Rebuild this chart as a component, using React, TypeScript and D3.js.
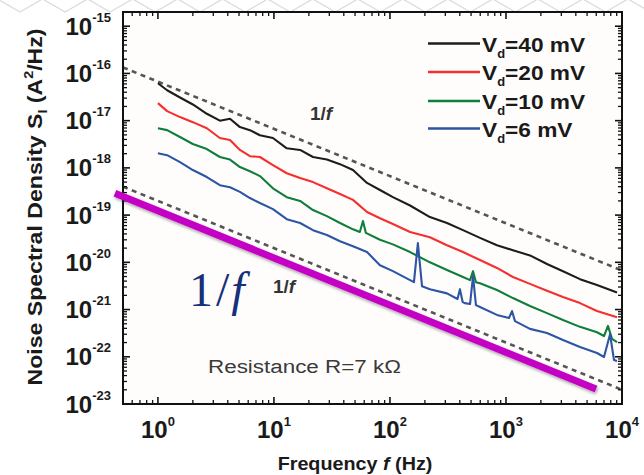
import React from "react";
import * as d3 from "d3";

const W = 644;
const H = 475;

// decade ticks
const xTicks = [1, 10, 100, 1000, 10000];
const xTickExp = ["0", "1", "2", "3", "4"];
const yTicks = [1e-15, 1e-16, 1e-17, 1e-18, 1e-19, 1e-20, 1e-21, 1e-22, 1e-23];
const yTickExp = ["-15", "-16", "-17", "-18", "-19", "-20", "-21", "-22", "-23"];

// noise spectra [f (Hz), S_I (A^2/Hz)]
const vd40: [number, number][] = [
  [1, 6.2e-17], [1.2, 4.4e-17], [1.55, 3.1e-17], [2.0, 2.2e-17], [2.64, 1.4e-17],
  [3.42, 1.0e-17], [4.18, 1.1e-17], [5.09, 7.3e-18], [6.21, 6.3e-18], [7.57, 4.9e-18],
  [9.8, 4.3e-18], [12.9, 2.6e-18], [16.8, 2.4e-18], [21.7, 1.7e-18], [28.6, 1.5e-18],
  [37.1, 1.2e-18], [48, 9.0e-19], [63.4, 4.8e-19], [82, 3.4e-19], [106, 2.4e-19],
  [149, 1.6e-19], [221, 9.1e-20], [310, 6.8e-20], [426, 4.8e-20], [597, 3.3e-20],
  [836, 2.3e-20], [1148, 1.8e-20], [1610, 1.4e-20], [2256, 9.2e-21], [3100, 6.5e-21],
  [4345, 4.4e-21], [6085, 3.3e-21], [9060, 2.3e-21],
];

const vd20: [number, number][] = [
  [1, 2.35e-17], [1.2, 1.59e-17], [1.55, 1.19e-17], [2.0, 9.3e-18], [2.64, 6.9e-18],
  [3.42, 4.3e-18], [4.18, 3.9e-18], [5.09, 2.4e-18], [6.21, 1.77e-18], [7.57, 1.7e-18],
  [9.8, 1.14e-18], [12.9, 7.7e-19], [16.8, 6.1e-19], [21.7, 5.0e-19], [28.6, 3.7e-19],
  [37.1, 2.8e-19], [48, 2.1e-19], [63.4, 1.16e-19], [82, 8.6e-20], [106, 6.5e-20],
  [149, 4.4e-20], [221, 3.4e-20], [310, 2.3e-20], [426, 1.65e-20], [597, 1.12e-20],
  [836, 7.6e-21], [1148, 4.9e-21], [1610, 3.5e-21], [2256, 2.5e-21], [3100, 1.84e-21],
  [4345, 1.37e-21], [6085, 9.3e-22], [9060, 6.9e-22],
];

const vd10: [number, number][] = [
  [1, 6.9e-18], [1.2, 6.3e-18], [1.55, 4.5e-18], [2.0, 3.2e-18], [2.64, 2.5e-18],
  [3.42, 1.7e-18], [4.18, 1.5e-18], [5.09, 1.04e-18], [6.21, 8.5e-19], [7.57, 6.7e-19],
  [9.8, 3.7e-19], [12.9, 2.4e-19], [16.8, 2.0e-19], [21.7, 1.28e-19], [28.6, 9.5e-20],
  [37.1, 6.8e-20], [48, 5.0e-20], [55, 4.4e-20], [58.5, 7.5e-20], [62, 4.2e-20],
  [82, 3.0e-20], [106, 2.4e-20], [149, 1.65e-20], [221, 1.0e-20], [310, 6.9e-21],
  [426, 4.9e-21], [490, 4.2e-21], [520, 6.5e-21], [551, 3.8e-21], [597, 3.6e-21],
  [836, 2.6e-21], [1148, 1.75e-21], [1610, 1.19e-21], [2256, 8.4e-22], [3100, 6.0e-22],
  [4345, 4.3e-22], [6085, 3.3e-22], [6998, 2.75e-22], [7568, 4.5e-22], [8203, 2.4e-22],
  [9060, 2.05e-22],
];

const vd6: [number, number][] = [
  [1, 2.05e-18], [1.2, 1.86e-18], [1.55, 1.32e-18], [2.0, 9.0e-19], [2.64, 6.4e-19],
  [3.42, 4.3e-19], [4.18, 3.9e-19], [5.09, 3.1e-19], [6.21, 2.3e-19], [7.57, 1.8e-19],
  [9.8, 1.34e-19], [12.9, 8.2e-20], [16.8, 6.8e-20], [21.7, 4.8e-20], [28.6, 3.8e-20],
  [37.1, 2.8e-20], [48, 2.2e-20], [63.4, 1.65e-20], [82, 8.7e-21], [106, 6.5e-21],
  [149, 4.2e-21], [161, 3.8e-21], [174, 2.55e-20], [189, 3.1e-21], [221, 2.7e-21],
  [310, 2.2e-21], [382, 1.67e-21], [401, 2.7e-21], [423, 1.44e-21], [441, 1.37e-21],
  [490, 1.31e-21], [520, 5.1e-21], [551, 1.24e-21], [597, 1.13e-21], [836, 7.7e-22],
  [1061, 6.6e-22], [1127, 9.3e-22], [1196, 5.7e-22], [1610, 3.9e-22], [2256, 3.2e-22],
  [3100, 2.26e-22], [4345, 1.61e-22], [6085, 1.2e-22], [6998, 9.9e-23], [7889, 3.0e-22],
  [8531, 8.5e-23], [9060, 8.1e-23],
];

const seriesData = [vd40, vd20, vd10, vd6];
const legendValues = ["40 mV", "20 mV", "10 mV", "6 mV"];
const seriesColors = ["#1c1c1c", "#f52e2e", "#0f7d3b", "#2d55a5"];

// 1/f reference lines: S = A / f
const guideAmps = [6.7e-17, 2.0e-19];
const highlightAmp = 1.24e-19;
const highlightRange = [0.426, 5970];

const x = d3.scaleLog().domain([0.5, 1e4]).range([123, 622]);
const y = d3.scaleLog().domain([1e-23, 2e-15]).range([404, 12]);

const line = d3
  .line<[number, number]>()
  .x((d) => x(d[0]))
  .y((d) => y(d[1]));

function minorTicks(lo: number, hi: number): number[] {
  const out: number[] = [];
  for (let e = lo; e < hi; e++) {
    for (let m = 2; m <= 9; m++) out.push(m * Math.pow(10, e));
  }
  return out;
}

// faint honeycomb along the top edge of the page
function Hexes() {
  const r = 26;
  const w = Math.sqrt(3) * r;
  const items: JSX.Element[] = [];
  for (let i = -1; i < 15; i++) {
    const cx = i * w + 20;
    const cy = -14;
    const pts = d3.range(6).map((k) => {
      const a = (Math.PI / 3) * k + Math.PI / 6;
      return `${cx + r * Math.cos(a)},${cy + r * Math.sin(a)}`;
    });
    items.push(<polygon key={i} points={pts.join(" ")} fill="none" stroke="#dcdcdc" strokeWidth={1.3} />);
  }
  return <g>{items}</g>;
}

export default function App() {
  const [x0, x1] = x.range();
  const [y0, y1] = y.range(); // y0 bottom, y1 top
  const xMinor = minorTicks(0, 4);
  const xMinorLow = [0.6, 0.7, 0.8, 0.9];
  const yMinor = minorTicks(-23, -15);
  const font = "'Liberation Sans', Arial, Helvetica, sans-serif";

  const guideF = [0.5, 1e4];
  const legendY = [43.5, 72, 101, 128.5];

  return (
    <svg
      width={W}
      height={H}
      style={{ position: "absolute", left: 0, top: 0, background: "#fff" }}
      fontFamily={font}
    >
      <defs>
        <filter id="shadow" x="-10%" y="-10%" width="120%" height="140%">
          <feDropShadow dx="1" dy="2" stdDeviation="1.6" floodColor="#000" floodOpacity="0.35" />
        </filter>
      </defs>
      <Hexes />
      <rect x={x0} y={y1} width={x1 - x0} height={y0 - y1} fill="#fffdfc" />

      {/* 1/f guide lines */}
      {guideAmps.map((a, i) => (
        <path
          key={i}
          d={line(guideF.map((f) => [f, a / f]) as [number, number][]) || ""}
          fill="none"
          stroke="#555"
          strokeWidth={2.6}
          strokeDasharray="5 4.5"
        />
      ))}

      {/* spectra */}
      {seriesData.map((s, i) => (
        <path
          key={i}
          d={line(s) || ""}
          fill="none"
          stroke={seriesColors[i]}
          strokeWidth={2.1}
          strokeLinejoin="round"
        />
      ))}

      {/* frame */}
      <rect x={x0} y={y1} width={x1 - x0} height={y0 - y1} fill="none" stroke="#111" strokeWidth={2} />

      {/* x ticks, bottom and top */}
      {xTicks.map((t) => (
        <g key={"xt" + t}>
          <line x1={x(t)} x2={x(t)} y1={y0} y2={y0 - 7} stroke="#111" strokeWidth={1.6} />
          <line x1={x(t)} x2={x(t)} y1={y1} y2={y1 + 7} stroke="#111" strokeWidth={1.6} />
        </g>
      ))}
      {xMinor.concat(xMinorLow).map((t) => (
        <g key={"xm" + t}>
          <line x1={x(t)} x2={x(t)} y1={y0} y2={y0 - 4} stroke="#111" strokeWidth={1.3} />
          <line x1={x(t)} x2={x(t)} y1={y1} y2={y1 + 4} stroke="#111" strokeWidth={1.3} />
        </g>
      ))}

      {/* y ticks, left and right */}
      {yTicks.map((t) => (
        <g key={"yt" + t}>
          <line x1={x0} x2={x0 + 7} y1={y(t)} y2={y(t)} stroke="#111" strokeWidth={1.6} />
          <line x1={x1} x2={x1 - 7} y1={y(t)} y2={y(t)} stroke="#111" strokeWidth={1.6} />
        </g>
      ))}
      {yMinor.map((t) => (
        <g key={"ym" + t}>
          <line x1={x0} x2={x0 + 4} y1={y(t)} y2={y(t)} stroke="#111" strokeWidth={1.3} />
          <line x1={x1} x2={x1 - 4} y1={y(t)} y2={y(t)} stroke="#111" strokeWidth={1.3} />
        </g>
      ))}

      {/* tick labels */}
      {xTicks.map((t, i) => (
        <text
          key={"xl" + t}
          x={x(t)}
          y={438}
          textAnchor="middle"
          fontSize={24}
          fontWeight="bold"
          fill="#1a1a1a"
        >
          10
          <tspan fontSize={13} dy={-12}>
            {xTickExp[i]}
          </tspan>
        </text>
      ))}
      {yTicks.map((t, i) => (
        <text
          key={"yl" + t}
          x={111}
          y={y(t) + 8.5}
          textAnchor="end"
          fontSize={24}
          fontWeight="bold"
          fill="#1a1a1a"
        >
          10
          <tspan fontSize={13} dy={-13}>
            {yTickExp[i]}
          </tspan>
        </text>
      ))}

      {/* axis titles */}
      <g transform="translate(355,470) scale(1.04,1)">
        <text x={0} y={0} textAnchor="middle" fontSize={19} fontWeight="bold" fill="#1a1a1a">
          Frequency <tspan fontStyle="italic">f</tspan> (Hz)
        </text>
      </g>
      <g transform="translate(42,207) rotate(-90) scale(1.1,1)">
        <text x={0} y={0} textAnchor="middle" fontSize={21} fontWeight="bold" fill="#1a1a1a">
          Noise Spectral Density S
          <tspan fontSize={13} dy={5}>
            I
          </tspan>
          <tspan dy={-5}>{"  (A"}</tspan>
          <tspan fontSize={13} dy={-9}>
            2
          </tspan>
          <tspan dy={9}>/Hz)</tspan>
        </text>
      </g>

      {/* legend */}
      {legendValues.map((v, i) => (
        <g key={"lg" + i}>
          <line
            x1={428}
            x2={480}
            y1={legendY[i]}
            y2={legendY[i]}
            stroke={seriesColors[i]}
            strokeWidth={2.5}
          />
          <g transform={`translate(482,${legendY[i] + 8}) scale(1.08,1)`}>
            <text x={0} y={0} fontSize={21} fontWeight="bold" fill="#1a1a1a">
              V
              <tspan fontSize={12} dy={6}>
                d
              </tspan>
              <tspan dy={-6}>={v}</tspan>
            </text>
          </g>
        </g>
      ))}

      {/* annotations */}
      <text x={310} y={120} fontSize={19} fontWeight="bold" fill="#333">
        1/<tspan fontStyle="italic">f</tspan>
      </text>
      <text x={273} y={293} fontSize={19} fontWeight="bold" fill="#333">
        1/<tspan fontStyle="italic">f</tspan>
      </text>
      <g transform="translate(208,373) scale(1.18,1)">
        <text x={0} y={0} fontSize={19} fill="#3a3a3a">
          Resistance R=7 kΩ
        </text>
      </g>

      {/* highlighted 1/f slope */}
      <path
        d={line(highlightRange.map((f) => [f, highlightAmp / f]) as [number, number][]) || ""}
        fill="none"
        stroke="#c400c4"
        strokeWidth={7}
        filter="url(#shadow)"
      />
      <text x={189} y={306} fontSize={48} fill="#16307a" fontFamily="'Liberation Serif', 'DejaVu Serif', serif">
        1
        <tspan dx={3}>/</tspan>
        <tspan dx={2} fontStyle="italic">
          f
        </tspan>
      </text>
    </svg>
  );
}
